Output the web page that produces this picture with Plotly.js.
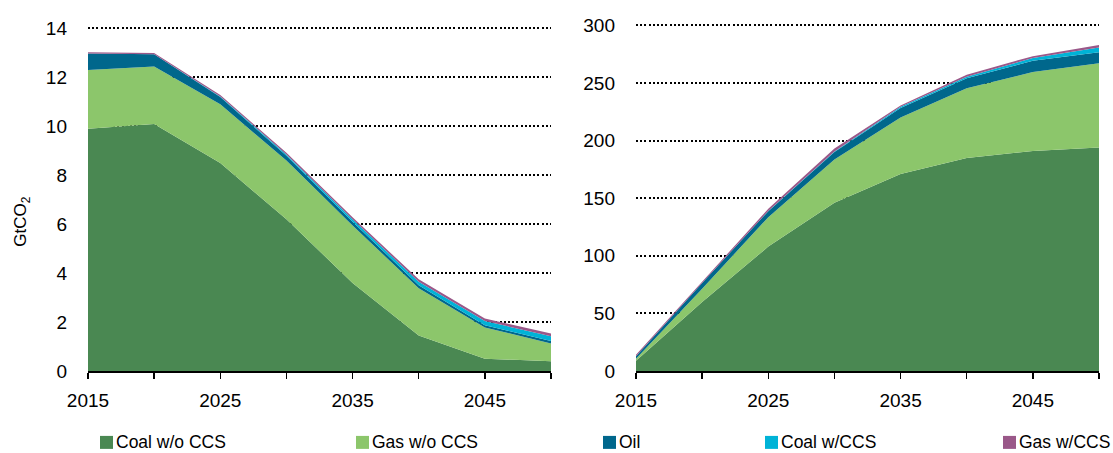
<!DOCTYPE html>
<html>
<head>
<meta charset="utf-8">
<script src="https://cdn.plot.ly/plotly-3.0.1.min.js"></script>
<style>html,body{margin:0;padding:0;background:#fff;}#chart{width:1113px;height:453px;}</style>
</head>
<body>
<div id="chart"></div>
<script>
// ---- data ----
const years = [2015, 2020, 2025, 2030, 2035, 2040, 2045, 2050];
const tickLabels = ['2015', '', '2025', '', '2035', '', '2045', ''];
const seriesNames = ['Coal w/o CCS', 'Gas w/o CCS', 'Oil', 'Coal w/CCS', 'Gas w/CCS'];

// Annual emissions (GtCO2)
const coalAnnual    = [9.9, 10.1, 8.5, 6.2, 3.6, 1.45, 0.5, 0.4];
const gasAnnual     = [2.4, 2.35, 2.4, 2.4, 2.35, 1.93, 1.28, 0.72];
const oilAnnual     = [0.68, 0.5, 0.3, 0.2, 0.15, 0.13, 0.09, 0.11];
const coalCcsAnnual = [0, 0, 0.02, 0.05, 0.1, 0.14, 0.17, 0.19];
const gasCcsAnnual  = [0.05, 0.05, 0.06, 0.07, 0.08, 0.1, 0.11, 0.11];

// Cumulative emissions (GtCO2)
const coalCum    = [9, 60, 108, 146, 171, 185, 191, 194];
const gasCum     = [1.7, 11.4, 25.6, 37.6, 49.2, 60.5, 68.6, 73.2];
const oilCum     = [2, 5, 5.2, 6.6, 8.1, 8.7, 9.8, 9.5];
const coalCcsCum = [0, 0, 0.1, 0.3, 1.2, 1.4, 2.3, 4.1];
const gasCcsCum  = [1.5, 1.6, 2, 2.6, 1.1, 1.7, 1.7, 2.3];

const colors = ['#4a8852', '#8cc66b', '#00678c', '#00b3d7', '#9a5889'];

// ---- layout geometry (pixels) ----
const W = 1113, H = 453;
const mL = 88, mR = 14, mT = 20, mB = 81.5;
const pw = W - mL - mR, ph = H - mT - mB;
const px2x = p => (p - mL) / pw;
const py2y = p => (H - mB - p) / ph;

const leftSeries = [coalAnnual, gasAnnual, oilAnnual, coalCcsAnnual, gasCcsAnnual];
const rightSeries = [coalCum, gasCum, oilCum, coalCcsCum, gasCcsCum];

const traces = [];
leftSeries.forEach((s, i) => traces.push({
  x: years, y: s, name: seriesNames[i], type: 'scatter', mode: 'lines',
  stackgroup: 'a', line: {width: 0, color: colors[i]}, fillcolor: colors[i],
  xaxis: 'x', yaxis: 'y', showlegend: false, hoverinfo: 'skip'
}));
rightSeries.forEach((s, i) => traces.push({
  x: years, y: s, name: seriesNames[i], type: 'scatter', mode: 'lines',
  stackgroup: 'b', line: {width: 0, color: colors[i]}, fillcolor: colors[i],
  xaxis: 'x2', yaxis: 'y2', showlegend: false, hoverinfo: 'skip'
}));

const fontFam = '"Liberation Sans", Arial, sans-serif';
const xCommon = {
  range: [2015, 2050], tickvals: years, ticktext: tickLabels,
  showline: true, linecolor: '#000', linewidth: 2,
  ticks: 'outside', ticklen: 6, tickwidth: 1.5, tickcolor: '#000',
  showgrid: false, zeroline: false,
  tickfont: {family: fontFam, size: 19, color: '#000'}, ticklabelstandoff: 5
};
const yCommon = {
  showline: false, ticks: '', zeroline: false,
  showgrid: true, gridcolor: '#000', gridwidth: 2, griddash: '2px,2.2px',
  tickfont: {family: fontFam, size: 19, color: '#000'}, ticklabelstandoff: 20
};

const xDomL = [0, px2x(551)];
const xDomR = [px2x(636), 1];
const leftTop = (H - mB - mT) / 24.5;
const rightTop = (H - mB - mT) / (346 / 300);

const shapes = [], annotations = [];
const legendX = [100, 356, 603, 765, 1003];
const legendY = 443;
seriesNames.forEach((n, i) => {
  shapes.push({type: 'rect', xref: 'paper', yref: 'paper',
    x0: px2x(legendX[i]), x1: px2x(legendX[i] + 13),
    y0: py2y(legendY - 6.5), y1: py2y(legendY + 6.5),
    fillcolor: colors[i], line: {width: 0}});
  annotations.push({xref: 'paper', yref: 'paper', x: px2x(legendX[i] + 14), y: py2y(legendY),
    xanchor: 'left', yanchor: 'middle', text: n, showarrow: false,
    font: {family: fontFam, size: 17.5, color: '#000'}});
});
annotations.push({xref: 'paper', yref: 'paper', x: px2x(22), y: py2y(222),
  xanchor: 'center', yanchor: 'middle', textangle: -90, text: 'GtCO<sub>2</sub>',
  showarrow: false, font: {family: fontFam, size: 17, color: '#000'}});

const layout = {
  width: W, height: H,
  margin: {l: mL, r: mR, t: mT, b: mB, pad: 0},
  paper_bgcolor: '#fff', plot_bgcolor: 'rgba(0,0,0,0)',
  showlegend: false,
  xaxis: Object.assign({}, xCommon, {domain: xDomL, anchor: 'y'}),
  xaxis2: Object.assign({}, xCommon, {domain: xDomR, anchor: 'y2'}),
  yaxis: Object.assign({}, yCommon, {range: [0, leftTop], tickvals: [0,2,4,6,8,10,12,14], anchor: 'x'}),
  yaxis2: Object.assign({}, yCommon, {range: [0, rightTop], tickvals: [0,50,100,150,200,250,300], anchor: 'x2'}),
  shapes: shapes, annotations: annotations
};

Plotly.newPlot('chart', traces, layout, {staticPlot: true, displayModeBar: false});
</script>
</body>
</html>
